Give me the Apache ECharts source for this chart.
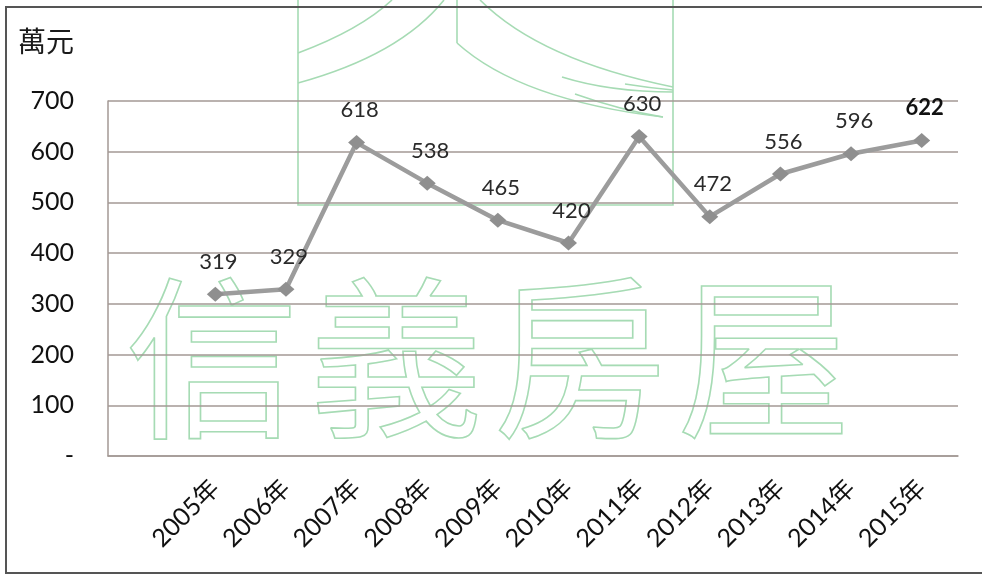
<!DOCTYPE html>
<html>
<head>
<meta charset="utf-8">
<script src="https://cdn.jsdelivr.net/npm/echarts@6/dist/echarts.min.js"></script>
<style>
  html, body { margin: 0; padding: 0; background: #ffffff; }
  #chart { width: 982px; height: 575px; }
</style>
</head>
<body>
<div id="chart"></div>
<script>
// Average price per year, in 萬元
const years = ['2005年', '2006年', '2007年', '2008年', '2009年', '2010年',
               '2011年', '2012年', '2013年', '2014年', '2015年'];
const prices = [319, 329, 618, 538, 465, 420, 630, 472, 556, 596, 622];
const yTicks = [0, 100, 200, 300, 400, 500, 600, 700];
const unitLabel = '萬元';
const brandMark = ['信', '義', '房', '屋'];

const chart = echarts.init(document.getElementById('chart'));

const FONT = 'Lato, "Noto Sans CJK TC", sans-serif';
const GREEN = '#a6dbb4';
const GRID_COLOR = '#a39995';

const markText = brandMark.map((ch, i) => ({
  type: 'text',
  z: -5,
  x: 212 + i * 184,
  y: 358,
  style: {
    text: ch,
    font: '174px "Noto Sans CJK TC"',
    align: 'center',
    verticalAlign: 'middle',
    fill: 'rgba(0,0,0,0)',
    stroke: GREEN,
    lineWidth: 1.6
  }
}));

const curve = (x1, y1, cx, cy, x2, y2) => ({
  type: 'bezierCurve',
  z: -5,
  shape: { x1: x1, y1: y1, cpx1: cx, cpy1: cy, x2: x2, y2: y2 },
  style: { stroke: GREEN, fill: null, lineWidth: 1.6 }
});

chart.setOption({
  animation: false,
  backgroundColor: '#ffffff',
  graphic: [
    // page frame
    { type: 'polyline', z: 10,
      shape: { points: [[986, 7], [6, 7], [6, 573], [986, 573]] },
      style: { stroke: '#555555', lineWidth: 2, fill: null } },
    // emblem box
    { type: 'polyline', z: -5,
      shape: { points: [[298, 0], [298, 205], [673, 205], [673, 0]] },
      style: { stroke: GREEN, fill: null, lineWidth: 1.6 } },
    curve(298, 53, 360, 30, 392, 0),
    curve(298, 83, 400, 55, 444, 0),
    { type: 'line', z: -5, shape: { x1: 457, y1: 0, x2: 457, y2: 43 },
      style: { stroke: GREEN, lineWidth: 1.6 } },
    curve(457, 43, 520, 100, 663, 117),
    curve(480, 0, 540, 60, 673, 87),
    curve(562, 77, 610, 92, 673, 92),
    curve(575, 94, 620, 110, 663, 117),
    curve(625, 84, 650, 88, 673, 90),
    ...markText,
    { type: 'text', z: 10, left: 18, top: 27,
      style: { text: unitLabel, font: '28px "Noto Sans CJK TC"', fill: '#1a1a1a' } }
  ],
  grid: [
    { left: 108, right: 24, top: 101, bottom: 119 },
    { left: 180, right: 25, top: 101, bottom: 119 }
  ],
  xAxis: [
    { gridIndex: 0, type: 'category', data: years, boundaryGap: true,
      axisLine: { show: true, lineStyle: { color: GRID_COLOR, width: 1.5 } },
      axisTick: { show: false }, axisLabel: { show: false }, splitLine: { show: false } },
    { gridIndex: 1, type: 'category', data: years, boundaryGap: true,
      axisLine: { show: false }, axisTick: { show: false },
      axisLabel: { rotate: 45, margin: 28, fontSize: 25, color: '#111111',
                   fontFamily: FONT, interval: 0 } }
  ],
  yAxis: [
    { gridIndex: 0, type: 'value', min: yTicks[0], max: yTicks[yTicks.length - 1],
      interval: 100,
      axisLine: { show: true, lineStyle: { color: GRID_COLOR, width: 1.5 } },
      axisTick: { show: false },
      splitLine: { show: true, lineStyle: { color: GRID_COLOR, width: 1.5 } },
      axisLabel: { margin: 34, fontSize: 25, color: '#111111', fontFamily: FONT,
                   formatter: v => (v === 0 ? '-' : String(v)) } },
    { gridIndex: 1, type: 'value', min: yTicks[0], max: yTicks[yTicks.length - 1],
      interval: 100, show: false, splitLine: { show: false } }
  ],
  series: [{
    type: 'line',
    xAxisIndex: 1,
    yAxisIndex: 1,
    data: prices.map((v, i) => i === prices.length - 1
      ? { value: v, label: { fontWeight: 'bold', color: '#111111' } }
      : v),
    symbol: 'diamond',
    symbolSize: [17, 15],
    lineStyle: { color: '#9c9c9c', width: 4.5 },
    itemStyle: { color: '#8f8f8f' },
    label: {
      show: true,
      position: 'top',
      distance: 14,
      offset: [3, 0],
      fontSize: 22,
      color: '#2a2a2a',
      fontFamily: FONT
    },
    z: 5
  }]
});
</script>
</body>
</html>
